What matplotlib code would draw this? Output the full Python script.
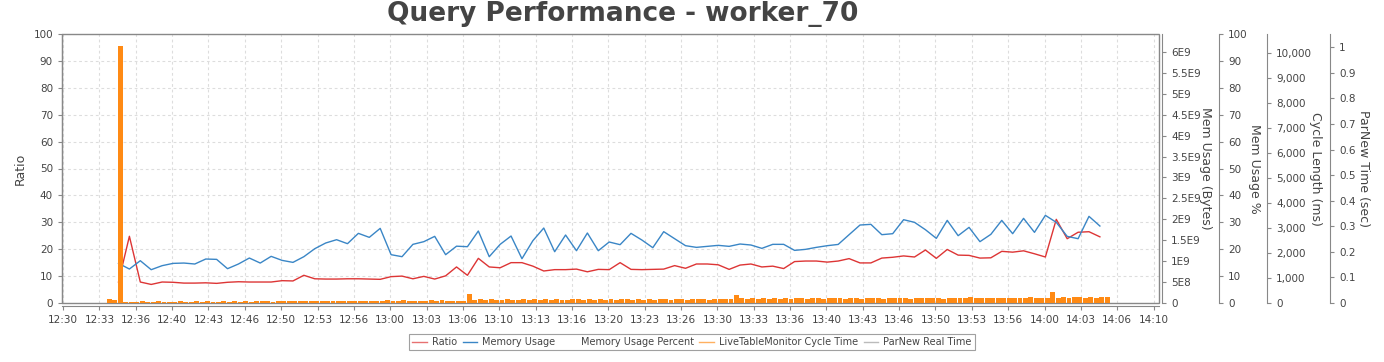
"""
Query Performance - worker_70
"""

import matplotlib
matplotlib.use("Agg")
import matplotlib.pyplot as plt
import numpy as np
from matplotlib.lines import Line2D
from matplotlib.patches import Rectangle

# x is minutes after 12:30
# ratio / memory usage: one point a minute starting 12:35
first_point = 5.08
ratio = [7.8, 24.8, 7.8, 6.9, 7.8, 7.7, 7.4, 7.4, 7.5, 7.3,
         7.7, 7.9, 7.8, 7.8, 7.8, 8.3, 8.2, 10.3, 9.0, 8.9,
         8.9, 9.0, 9.0, 8.9, 8.8, 9.8, 10.0, 9.0, 9.9, 8.9,
         10.1, 13.4, 10.3, 16.6, 13.4, 13.1, 15.0, 15.0, 13.7, 11.9,
         12.4, 12.4, 12.6, 11.6, 12.5, 12.4, 15.0, 12.5, 12.4, 12.5,
         12.6, 13.9, 12.9, 14.5, 14.5, 14.2, 12.5, 14.1, 14.5, 13.4,
         13.7, 12.8, 15.4, 15.6, 15.6, 15.2, 15.6, 16.5, 14.9, 14.9,
         16.7, 17.0, 17.5, 17.1, 19.7, 16.6, 19.9, 17.8, 17.7, 16.7,
         16.8, 19.2, 18.9, 19.4, 18.3, 17.1, 31.1, 23.9, 26.3, 26.5,
         24.6]

# bytes, in units of 1E9
memory_usage = [0.947, 0.812, 1.011, 0.796, 0.892, 0.947, 0.955, 0.932, 1.051, 1.043,
                0.820, 0.932, 1.075, 0.955, 1.115, 1.019, 0.971, 1.107, 1.298, 1.434,
                1.513, 1.418, 1.665, 1.569, 1.784, 1.155, 1.107, 1.402, 1.466, 1.593,
                1.155, 1.358, 1.346, 1.721, 1.107, 1.402, 1.601, 1.059, 1.489, 1.792,
                1.226, 1.625, 1.250, 1.673, 1.250, 1.458, 1.394, 1.665, 1.505, 1.322,
                1.705, 1.537, 1.370, 1.330, 1.354, 1.378, 1.354, 1.410, 1.386, 1.306,
                1.402, 1.402, 1.258, 1.282, 1.330, 1.370, 1.400, 1.633, 1.864, 1.880,
                1.633, 1.657, 1.991, 1.928, 1.752, 1.545, 1.975, 1.609, 1.808, 1.466,
                1.641, 1.975, 1.657, 2.023, 1.689, 2.095, 1.928, 1.593, 1.537, 2.071,
                1.840]

# LiveTableMonitor cycle time (ms), every 30 s from 12:34:15
cycle_start = 4.25
cycle_step = 0.5
cycle_time = [150, 110, 10290,
              55, 60, 50, 65, 55, 60, 70, 55, 60, 50,
              65, 55, 60, 70, 55, 65, 60, 55, 70, 60,
              65, 55, 75, 60, 70, 65, 75, 60, 70, 80,
              65, 75, 70, 85, 65, 75, 80, 70, 85, 75,
              80, 90, 75, 85, 80,
              85, 95, 80, 105, 90, 85, 110, 95, 85, 100, 80, 105, 90, 110, 95, 85, 100, 90,
              370,
              120, 145, 110, 155, 130, 120, 165, 140, 125, 150,
              115, 160, 135, 145, 125, 165, 140, 120, 155, 145,
              135, 170, 125, 150, 140, 160, 130, 145, 165, 135,
              155, 125, 150, 140, 170, 145, 135, 160, 150, 130,
              165, 145, 155, 140, 175,
              165, 180, 155,
              340,
              185, 170, 200, 175, 190, 165, 205, 180, 195, 175,
              210, 185, 170, 200, 190, 180, 215, 185, 195, 175,
              205, 190, 180, 210, 195, 185, 175, 215, 200, 190,
              205, 180, 220, 195, 185, 210, 200, 175, 215, 190,
              205, 195, 225, 185, 210, 200, 190, 220, 205, 195,
              215, 185, 210, 225, 200, 205, 190,
              450,
              215, 240, 205, 230, 250, 220, 235, 210, 245, 255]

x_labels = ["12:30", "12:33", "12:36", "12:40", "12:43", "12:46", "12:50", "12:53",
            "12:56", "13:00", "13:03", "13:06", "13:10", "13:13", "13:16", "13:20",
            "13:23", "13:26", "13:30", "13:33", "13:36", "13:40", "13:43", "13:46",
            "13:50", "13:53", "13:56", "14:00", "14:03", "14:06", "14:10"]
bytes_labels = ["0", "5E8", "1E9", "1.5E9", "2E9", "2.5E9", "3E9", "3.5E9",
                "4E9", "4.5E9", "5E9", "5.5E9", "6E9"]
cycle_labels = ["0", "1,000", "2,000", "3,000", "4,000", "5,000", "6,000",
                "7,000", "8,000", "9,000", "10,000"]
parnew_labels = ["0", "0.1", "0.2", "0.3", "0.4", "0.5", "0.6", "0.7", "0.8", "0.9", "1"]

RED = "#dd3535"
BLUE = "#3a86c6"
ORANGE = "#ff8a14"
GRAY = "#888888"
TXT = "#444444"
FS = 7.5

W, H = 1384, 362
fig = plt.figure(figsize=(W / 100, H / 100), dpi=100)
ax = fig.add_axes([62 / W, 1 - 303 / H, (1159 - 62) / W, (303 - 34) / H])

t_min = first_point + np.arange(len(ratio))
t_cycle = cycle_start + cycle_step * np.arange(len(cycle_time))

# main axis: ratio
ax.plot(t_min, ratio, color=RED, lw=1.0, zorder=3)
ax.set_xlim(-0.1, 100.5)
ax.set_ylim(0, 100)
ax.set_yticks(np.arange(0, 101, 10))
ax.set_xticks(np.arange(len(x_labels)) * 10 / 3)
ax.set_xticklabels(x_labels)
ax.grid(True, color="#dddddd", ls=(0, (2.5, 2.5)), lw=0.8)
ax.set_axisbelow(True)
for s in ["top", "right"]:
    ax.spines[s].set_visible(False)
ax.spines["bottom"].set_position(("outward", 2.2))
ax.spines["bottom"].set_color(GRAY)
ax.spines["left"].set_color(GRAY)
ax.add_patch(Rectangle((0, 0), 1, 1, transform=ax.transAxes, fill=False,
                       edgecolor=GRAY, lw=1.0, clip_on=False, zorder=5))
ax.tick_params(labelsize=FS, labelcolor=TXT, color=GRAY, length=3, width=0.8)
ax.set_ylabel("Ratio", fontsize=9, color=TXT, va="center", ha="center")
ax.yaxis.set_label_coords(-0.038, 0.5)


def right_axis(offset):
    a = ax.twinx()
    for s in ["top", "left", "bottom"]:
        a.spines[s].set_visible(False)
    a.spines["right"].set_position(("outward", offset))
    a.spines["right"].set_color(GRAY)
    a.tick_params(labelsize=FS, labelcolor=TXT, color=GRAY, length=3, width=0.8)
    return a


ax_bytes = right_axis(2.2)
ax_bytes.plot(t_min, np.array(memory_usage) * 1e9, color=BLUE, lw=1.0)
ax_bytes.set_ylim(0, 6.43e9)
ax_bytes.set_yticks(np.arange(len(bytes_labels)) * 5e8)
ax_bytes.set_yticklabels(bytes_labels)
ax_bytes.set_ylabel("Mem Usage (Bytes)", fontsize=9, color=TXT, rotation=270,
                    va="center", ha="center")
ax_bytes.yaxis.set_label_coords(1.042, 0.5)

ax_pct = right_axis(43.2)
ax_pct.set_ylim(0, 100)
ax_pct.set_yticks(np.arange(0, 101, 10))
ax_pct.set_ylabel("Mem Usage %", fontsize=9, color=TXT, rotation=270,
                  va="center", ha="center")
ax_pct.yaxis.set_label_coords(1.0866, 0.5)

ax_cycle = right_axis(77.8)
ax_cycle.bar(t_cycle, cycle_time, width=0.45, color=ORANGE, lw=0)
ax_cycle.set_ylim(0, 10777)
ax_cycle.set_yticks(np.arange(len(cycle_labels)) * 1000)
ax_cycle.set_yticklabels(cycle_labels)
ax_cycle.set_ylabel("Cycle Length (ms)", fontsize=9, color=TXT, rotation=270,
                    va="center", ha="center")
ax_cycle.yaxis.set_label_coords(1.1431, 0.5)

ax_parnew = right_axis(123.1)
ax_parnew.set_ylim(0, 1.052)
ax_parnew.set_yticks(np.arange(len(parnew_labels)) * 0.1)
ax_parnew.set_yticklabels(parnew_labels)
ax_parnew.set_ylabel("ParNew Time (sec)", fontsize=9, color=TXT, rotation=270,
                     va="center", ha="center")
ax_parnew.yaxis.set_label_coords(1.186, 0.5)

fig.text(623 / W, 1 - 14 / H, "Query Performance - worker_70", fontsize=19,
         fontweight="bold", color=TXT, ha="center", va="center")

handles = [Line2D([], [], color=RED, lw=1, alpha=0.7),
           Line2D([], [], color=BLUE, lw=1),
           Line2D([], [], color="none", lw=1),
           Line2D([], [], color="#ffb060", lw=1),
           Line2D([], [], color="#bbbbbb", lw=1)]
labels = ["Ratio", "Memory Usage", "Memory Usage Percent",
          "LiveTableMonitor Cycle Time", "ParNew Real Time"]
leg = fig.legend(handles, labels, loc="center", bbox_to_anchor=(0.5, 1 - 342 / H),
                 ncol=5, fontsize=7, frameon=True, fancybox=False, edgecolor=GRAY,
                 handlelength=1.5, handletextpad=0.5, columnspacing=0.6,
                 borderpad=0.3, labelcolor=TXT)
leg.get_frame().set_linewidth(0.8)

fig.savefig("out.png", dpi=100)
